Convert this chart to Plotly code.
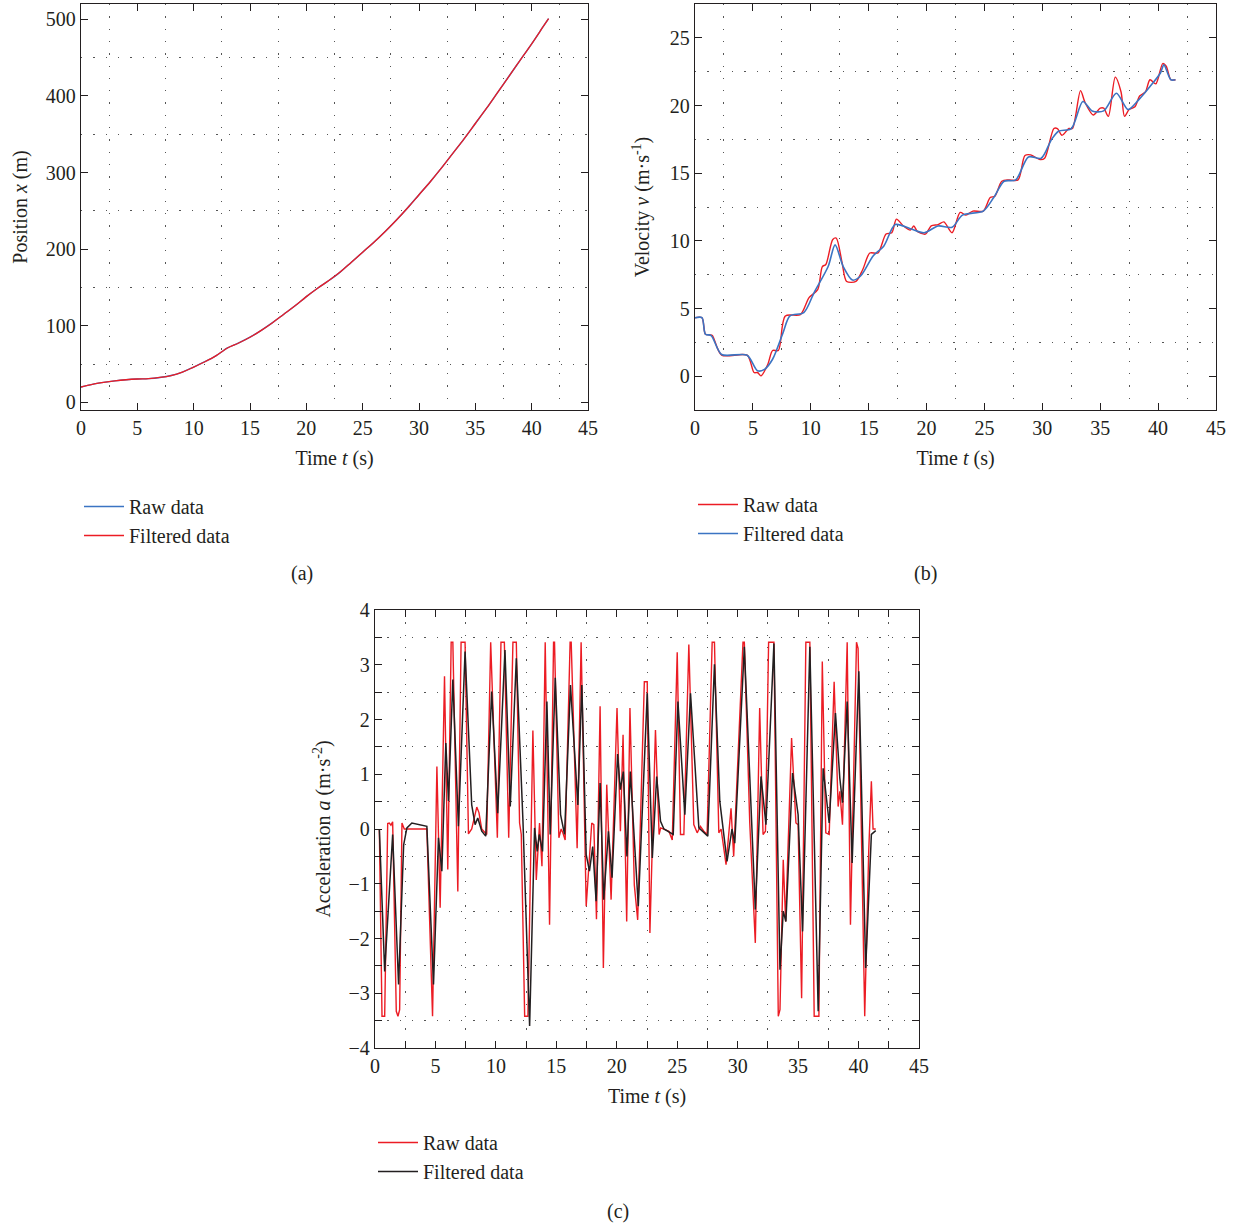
import plotly.graph_objects as go

# ---------------- data ----------------
# (a) position
t_pos = [0, 1, 2, 3, 4, 5, 6, 7, 8, 9, 10, 11, 12, 12.5, 13, 14, 15, 16, 17, 18, 19, 20, 21, 22,
         23, 24, 25, 26, 27, 28, 29, 30, 31, 32, 33, 34, 35, 36, 37, 38, 39, 40, 41, 41.5]
x_raw = [20, 23.5, 26, 28, 29.5, 30.5, 31, 32.5, 35, 39.5, 46, 53, 61, 66, 71, 77.5, 85, 94, 104,
         115, 126, 138, 149, 159, 170, 183, 196, 209, 223, 238, 254, 271, 288, 306, 325, 344,
         364, 384, 405, 426, 447, 468, 490, 501]
x_filt = [20, 23.5, 26, 28, 29.5, 30.5, 31, 32.5, 35, 39.5, 46, 53, 61, 66, 71, 77.5, 85, 94, 104,
          115, 126, 138, 149, 159, 170, 183, 196, 209, 223, 238, 254, 271, 288, 306, 325, 344,
          364, 384, 405, 426, 447, 468, 490, 501]

# (b) velocity
t_vr = [0, 0.6, 0.9, 1.3, 1.5, 2.3, 4.5, 5.1, 5.4, 5.7, 6.3, 6.7, 7.2, 7.8, 9.1, 9.85, 10.6, 11.0,
        11.3, 11.9, 12.2, 12.7, 13.1, 13.9, 14.5, 15.1, 15.8, 16.5, 17.0, 17.4, 18.0, 18.6, 18.9,
        19.2, 19.9, 20.4, 21.0, 21.5, 22.2, 22.9, 23.4, 24.0, 24.9, 25.5, 25.9, 26.5, 27.1, 27.9,
        28.5, 29.0, 29.8, 30.2, 31.0, 31.3, 31.7, 32.3, 32.6, 33.3, 33.7, 34.4, 35.0, 35.3, 35.7,
        36.3, 36.8, 37.1, 37.5, 38.0, 38.4, 38.9, 39.3, 39.8, 40.4, 40.7, 41.1, 41.5]
v_raw = [4.32, 4.32, 3.1, 3.05, 3.0, 1.55, 1.55, 0.27, 0.27, 0.02, 0.9, 1.9, 1.9, 4.45, 4.55, 5.8,
         6.4, 8.1, 8.25, 10.1, 10.2, 8.4, 7.0, 7.0, 7.9, 9.1, 9.1, 10.5, 10.6, 11.6, 11.1, 10.8,
         11.1, 10.7, 10.5, 11.1, 11.2, 11.4, 10.6, 12.1, 11.9, 12.2, 12.2, 13.2, 13.3, 14.4, 14.5,
         14.5, 16.3, 16.35, 16.0, 16.1, 18.3, 18.3, 17.8, 18.3, 18.3, 21.1, 20.2, 19.3, 19.8, 19.8,
         19.2, 22.1, 21.0, 19.2, 19.7, 19.9, 20.7, 21.0, 21.9, 21.6, 23.1, 22.9, 21.9, 21.9]
t_vf = [0, 0.6, 0.9, 1.4, 2.3, 4.5, 5.4, 6.0, 6.7, 7.6, 8.2, 9.4, 10.3, 11.5, 12.1, 12.8, 13.6,
        14.3, 15.4, 16.3, 17.3, 18.6, 19.8, 21.0, 22.2, 23.1, 24.9, 25.8, 26.7, 27.7, 28.8, 29.9,
        30.8, 31.4, 32.5, 33.5, 34.3, 35.3, 36.4, 37.4, 38.3, 39.3, 40.2, 40.5, 41.1, 41.5]
v_filt = [4.32, 4.32, 3.1, 3.0, 1.6, 1.55, 0.4, 0.5, 1.25, 3.2, 4.45, 4.7, 6.2, 8.1, 9.7, 8.1, 7.1,
          7.4, 8.9, 9.6, 11.2, 10.9, 10.6, 11.1, 11.0, 11.9, 12.2, 13.2, 14.4, 14.5, 16.2, 16.1,
          17.5, 18.1, 18.3, 20.3, 19.6, 19.6, 20.9, 19.7, 20.4, 21.4, 22.4, 23.0, 21.9, 21.9]

# (c) acceleration
t_ar = [0.36, 0.58, 0.8, 1.05, 1.18, 1.32, 1.46, 1.76, 1.9, 2.04, 2.23, 2.42, 4.29, 4.76, 5.12,
        5.39, 5.75, 6.02, 6.3, 6.44, 6.85, 7.12, 7.45, 7.73, 8.0, 8.42, 8.6, 8.83, 9.24, 9.57,
        10.12, 10.42, 10.7, 11.06, 11.41, 11.69, 11.96, 12.1, 12.38, 12.65, 13.06, 13.34, 13.61,
        13.81, 14.08, 14.44, 14.77, 14.85, 15.21, 15.4, 15.54, 15.73, 16.14, 16.23, 16.72, 17.05,
        17.47, 17.66, 17.93, 18.1, 18.32, 18.62, 18.89, 19.17, 19.53, 20.02, 20.3, 20.52, 20.82,
        21.09, 21.45, 21.73, 22.28, 22.52, 22.74, 23.2, 23.5, 23.63, 24.31, 24.59, 25.0, 25.27,
        25.55, 25.96, 26.37, 26.65, 26.92, 27.2, 27.47, 27.89, 28.08, 28.44, 28.63, 29.04, 29.45,
        29.67, 30.44, 30.55, 31.0, 31.46, 31.82, 32.1, 32.3, 32.56, 33.0, 33.36, 33.5, 33.77,
        33.97, 34.46, 34.82, 35.0, 35.29, 35.64, 35.97, 36.33, 36.72, 37.0, 37.29, 37.57, 37.98,
        38.31, 38.45, 38.67, 39.06, 39.33, 39.83, 39.96, 40.51, 40.84, 41.06, 41.2, 41.42]
a_raw = [0, -3.42, -3.42, 0.1, 0.11, 0.07, 0.13, -3.33, -3.42, -3.3, 0.11, 0.0, 0.0, -3.42, 1.14,
         -1.44, 2.79, -0.74, 3.41, 3.41, -1.14, 3.41, 3.41, -0.09, 0, 0.4, 0.3, 0, -0.1, 3.41,
         -0.16, 3.41, 3.41, -0.16, 3.41, 3.41, 0.11, -0.1, -3.42, -3.42, 1.8, -0.93, 0.11,
         -0.68, 3.41, -1.75, 3.41, 3.41, -0.16, 0, -0.07, -0.2, 3.41, 3.41, -0.35, 3.41,
         -1.41, -0.77, 0.11, 0.08, -1.65, 2.24, -2.54, 0.81, -1.29, 2.21, -0.04, 1.72, -1.69,
         2.21, -1.02, -1.66, 2.69, 2.69, -1.9, 1.81, -0.1, 0.02, -0.04, -0.2, 3.23, -0.1,
         -0.1, 3.37, 0.08, -0.07, 0.05, -0.04, -0.1, 3.41, 3.41, -0.07, 0.0, -0.65, 0.38,
         -0.5, 3.41, 3.41, 0.11, -2.08, 2.21, -0.1, -0.04, 3.41, 3.41, -3.42, -3.3, -0.56,
         -1.69, 1.66, 0.11, 0.08, -3.09, 3.41, 3.41, -3.42, -3.42, 3.06, -0.07, -0.1, 2.69,
         0.41, 0.69, 0.08, 3.41, -1.75, 3.41, 3.3, -3.42, -0.41, 0.87, 0.0, 0.0]
t_af = [0.36, 0.8, 1.46, 1.95, 2.37, 2.64, 3.05, 4.29, 4.84, 5.25, 5.53, 5.86, 6.08, 6.44, 6.9,
        7.45, 8.0, 8.28, 8.5, 8.83, 9.16, 9.65, 10.15, 10.75, 11.19, 11.69, 12.24, 12.79, 13.2,
        13.42, 13.59, 13.86, 14.22, 14.49, 14.91, 15.35, 15.68, 16.17, 16.78, 17.11, 17.47,
        17.74, 18.01, 18.29, 18.62, 18.92, 19.31, 19.61, 20.07, 20.29, 20.54, 20.84, 21.12,
        21.78, 22.52, 22.94, 23.3, 23.62, 23.9, 24.45, 24.67, 25.06, 25.63, 26.1, 26.79, 27.53,
        28.08, 28.52, 29.12, 29.53, 29.76, 30.55, 31.05, 31.46, 31.93, 32.34, 33.0, 33.5, 33.77,
        33.99, 34.54, 35.0, 35.37, 35.97, 36.66, 37.07, 37.57, 38.09, 38.45, 38.67, 39.06, 39.47,
        40.02, 40.59, 41.06, 41.42]
a_filt = [0, -2.6, -0.1, -2.84, -0.29, 0.02, 0.11, 0.05, -2.84, -0.16, -0.77, 1.57, 0.51, 2.73,
          0.05, 3.24, 0.44, 0.08, 0.2, -0.04, -0.13, 2.51, 0.29, 3.27, 0.41, 3.12, 0.14, -3.6,
          0.02, -0.41, -0.1, -0.41, 2.33, -0.1, 2.76, 0.26, -0.1, 2.63, 0.44, 2.63, -0.47, -0.77,
          -0.32, -1.32, 0.84, -1.29, -0.04, -0.89, 1.37, 0.72, 1.05, -0.5, 1.05, -1.41, 2.48,
          -0.53, 0.96, 0.14, 0, -0.07, -0.1, 2.33, 0.26, 2.48, 0.02, -0.13, 3.01, 0.51, -0.59, 0,
          -0.26, 3.33, 0.81, -1.47, 0.96, 0.08, 3.39, -2.57, -1.5, -1.69, 1.02, 0.26, -1.87, 3.33,
          -3.33, 1.11, 0.11, 2.12, 0.93, 0.48, 2.33, -0.62, 2.88, -2.54, -0.1, -0.03]

# ticks
t_ticks = [0, 5, 10, 15, 20, 25, 30, 35, 40, 45]
t_grid = [2.5, 7.5, 12.5, 17.5, 22.5, 27.5, 32.5, 37.5, 42.5]
pos_ticks = [0, 100, 200, 300, 400, 500]
pos_grid = [50, 150, 250, 350, 450]
vel_ticks = [0, 5, 10, 15, 20, 25]
vel_grid = [2.5, 7.5, 12.5, 17.5, 22.5]
acc_ticks = [-4, -3, -2, -1, 0, 1, 2, 3, 4]
acc_ticktext = ["\u22124", "\u22123", "\u22122", "\u22121", "0", "1", "2", "3", "4"]
acc_grid = [-3.5, -2.5, -1.5, -0.5, 0.5, 1.5, 2.5, 3.5]

# ---------------- styling ----------------
W, H = 1239, 1223
FONT = "Liberation Serif, Times New Roman, serif"
INK = "#231f20"
RED = "#ec1c24"
BLUE = "#3b74c3"
BLACK = "#231f20"
GRIDC = "#555555"
DOT = "1.3px,11px"


def fx(p):
    return p / W


def fy(p):
    return 1 - p / H


def axis(domain, anchor, rng, tickvals, ticktext, grid, title, standoff, minor_ticks=False):
    return dict(
        domain=domain, anchor=anchor, range=rng, autorange=False, automargin=False,
        tickmode="array", tickvals=tickvals, ticktext=ticktext,
        ticks="inside", ticklen=7, tickwidth=1.2, tickcolor=INK,
        showline=True, linecolor=INK, linewidth=1.3, mirror="allticks",
        showgrid=False, zeroline=False,
        tickfont=dict(family=FONT, size=20, color=INK),
        minor=dict(tickmode="array", tickvals=grid, showgrid=True, gridcolor=GRIDC,
                   griddash=DOT, gridwidth=1.3,
                   ticks="inside" if minor_ticks else "", ticklen=7, tickwidth=1.2,
                   tickcolor=INK),
        title=dict(text=title, font=dict(family=FONT, size=20, color=INK), standoff=standoff),
        fixedrange=True,
    )


fig = go.Figure()

# (a)
fig.add_trace(go.Scatter(x=t_pos, y=x_raw, mode="lines", name="Raw data",
                         line=dict(color=BLUE, width=1.4, shape="spline"),
                         xaxis="x", yaxis="y", legend="legend"))
fig.add_trace(go.Scatter(x=t_pos, y=x_filt, mode="lines", name="Filtered data",
                         line=dict(color=RED, width=1.3, shape="spline"),
                         xaxis="x", yaxis="y", legend="legend"))
# (b)
fig.add_trace(go.Scatter(x=t_vr, y=v_raw, mode="lines", name="Raw data",
                         line=dict(color=RED, width=1.4, shape="spline", smoothing=0.8),
                         xaxis="x2", yaxis="y2", legend="legend2"))
fig.add_trace(go.Scatter(x=t_vf, y=v_filt, mode="lines", name="Filtered data",
                         line=dict(color=BLUE, width=1.6, shape="spline", smoothing=0.8),
                         xaxis="x2", yaxis="y2", legend="legend2"))
# (c)
fig.add_trace(go.Scatter(x=t_ar, y=a_raw, mode="lines", name="Raw data",
                         line=dict(color=RED, width=1.4),
                         xaxis="x3", yaxis="y3", legend="legend3"))
fig.add_trace(go.Scatter(x=t_af, y=a_filt, mode="lines", name="Filtered data",
                         line=dict(color=BLACK, width=1.5),
                         xaxis="x3", yaxis="y3", legend="legend3"))

t_title = "Time <i>t</i> (s)"
t_text = [str(v) for v in t_ticks]
LEG = dict(xanchor="left", yanchor="top", bgcolor="rgba(0,0,0,0)",
           font=dict(family=FONT, size=20, color=INK), itemwidth=40, tracegroupgap=0)
CAP = dict(xref="paper", yref="paper", showarrow=False, xanchor="center", yanchor="middle",
           font=dict(family=FONT, size=20, color=INK))
fig.update_layout(
    width=W, height=H,
    margin=dict(l=0, r=0, t=0, b=0, autoexpand=False),
    paper_bgcolor="white", plot_bgcolor="white",
    font=dict(family=FONT, size=20, color=INK),
    xaxis=axis([fx(81), fx(588)], "y", [0, 45], t_ticks, t_text, t_grid, t_title, 12),
    yaxis=axis([fy(410), fy(4)], "x", [-10, 520], pos_ticks, [str(v) for v in pos_ticks],
               pos_grid, "Position <i>x</i> (m)", 12),
    xaxis2=axis([fx(695), fx(1216)], "y2", [0, 45], t_ticks, t_text, t_grid, t_title, 12),
    yaxis2=axis([fy(410), fy(4)], "x2", [-2.5, 27.5], vel_ticks, [str(v) for v in vel_ticks],
                vel_grid, "Velocity <i>v</i> (m\u00b7s<sup>-1</sup>)", 14),
    xaxis3=axis([fx(375), fx(919)], "y3", [0, 45], t_ticks, t_text, t_grid, t_title, 12,
                minor_ticks=True),
    yaxis3=axis([fy(1048), fy(610)], "x3", [-4, 4], acc_ticks, acc_ticktext, acc_grid,
                "Acceleration <i>a</i> (m\u00b7s<sup>-2</sup>)", 12, minor_ticks=True),
    legend=dict(x=fx(79), y=fy(487), **LEG),
    legend2=dict(x=fx(693), y=fy(485), **LEG),
    legend3=dict(x=fx(373), y=fy(1123), **LEG),
    annotations=[
        dict(text="(a)", x=fx(302), y=fy(573), **CAP),
        dict(text="(b)", x=fx(925), y=fy(573), **CAP),
        dict(text="(c)", x=fx(618), y=fy(1211), **CAP),
    ],
)

fig.write_html("out.html", config={"displayModeBar": False},
               post_script="document.body.style.margin='0px';document.body.style.padding='0px';")
